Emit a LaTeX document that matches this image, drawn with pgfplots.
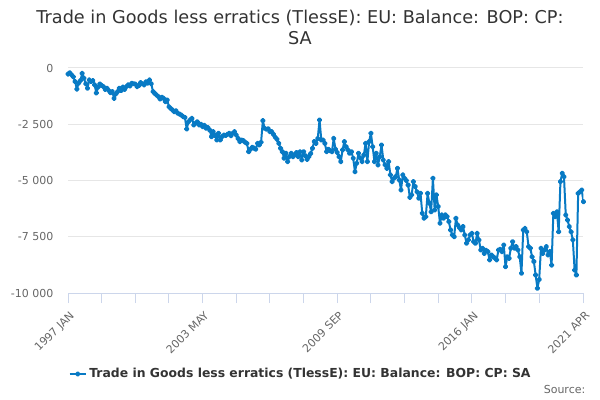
\documentclass[border=0pt]{standalone}
\usepackage{pgfplots}
\pgfplotsset{compat=1.18}
\usepackage{fontspec}
\setmainfont{DejaVu Sans}
\definecolor{line}{RGB}{8,122,196}
\definecolor{axisc}{HTML}{CCD6EB}
\definecolor{gridc}{HTML}{E6E6E6}
\definecolor{labc}{HTML}{666666}
\definecolor{titc}{HTML}{333333}
\begin{document}
\begin{tikzpicture}
\path[use as bounding box] (0,0) rectangle (450pt,300pt);
\node[anchor=base, font=\fontsize{13.25}{15}\selectfont, text=titc] at (225pt,282pt) {Trade in Goods less erratics (TlessE): EU: Balance: BOP: CP:};
\node[anchor=base, font=\fontsize{13.25}{15}\selectfont, text=titc] at (225pt,266.5pt) {SA};
\begin{axis}[
  at={(51pt,80.25pt)}, anchor=south west,
  width=386.6pt, height=168.75pt, scale only axis,
  xmin=0, xmax=291, ymin=-10000, ymax=0,
  scaled y ticks=false,
  axis x line*=bottom, axis y line*=left,
  x axis line style={draw=axisc, line width=0.75pt},
  y axis line style={draw=none},
  ytick={-10000,-7500,-5000,-2500,0},
  yticklabels={-10 000,-7 500,-5 000,-2 500,0},
  xtick={0,76,152,228,291},
  xticklabels={1997 JAN,2003 MAY,2009 SEP,2016 JAN,2021 APR},
  minor xtick={19,38,57,95,114,133,171,190,209,247,266},
  xticklabel style={rotate=45, anchor=north east, text=labc, font=\fontsize{8.25}{9}\selectfont, yshift=-1pt},
  yticklabel style={text=labc, font=\fontsize{8.25}{9}\selectfont},
  tick align=outside,
  major tick length=7.5pt, minor tick length=7.5pt,
  xtick style={draw=axisc, line width=0.75pt},
  minor x tick style={draw=axisc, line width=0.75pt},
  ytick style={draw=none},
  ymajorgrids, grid style={draw=gridc, line width=0.75pt},
  xminorgrids=false,
  /pgf/number format/assume math mode=true,
  legend style={at={(0.452,-0.36)}, anchor=center, draw=none, fill=none, font=\bfseries\fontsize{9.3}{11}\selectfont, text=titc, legend cell align=left},
  legend image code/.code={\draw[#1, line width=1.5pt] (0pt,0pt) -- (12pt,0pt); \fill[line] (6pt,0pt) circle (1.3pt);},
]
\addplot[color=line, line width=1.5pt, mark=*, mark size=1.3pt, line join=round] table {
x y
0 -270
1 -210
2 -300
3 -390
4 -600
5 -940
6 -670
7 -560
8 -240
9 -450
10 -700
11 -900
12 -530
13 -600
14 -560
15 -750
16 -1110
17 -850
18 -710
19 -780
20 -830
21 -950
22 -900
23 -1000
24 -1100
25 -1050
26 -1350
27 -1150
28 -1050
29 -900
30 -1000
31 -850
32 -950
33 -820
34 -750
35 -800
36 -680
37 -700
38 -710
39 -830
40 -780
41 -650
42 -700
43 -750
44 -610
45 -670
46 -530
47 -700
48 -1050
49 -1130
50 -1200
51 -1270
52 -1380
53 -1300
54 -1350
55 -1500
56 -1420
57 -1720
58 -1800
59 -1870
60 -1940
61 -1900
62 -2010
63 -2050
64 -2090
65 -2160
66 -2200
67 -2710
68 -2390
69 -2300
70 -2240
71 -2530
72 -2450
73 -2390
74 -2530
75 -2500
76 -2610
77 -2550
78 -2680
79 -2650
80 -2760
81 -3050
82 -2830
83 -3000
84 -3200
85 -2900
86 -3200
87 -3050
88 -2980
89 -3000
90 -2950
91 -2900
92 -3010
93 -2900
94 -2830
95 -2980
96 -3130
97 -3270
98 -3200
99 -3230
100 -3300
101 -3350
102 -3720
103 -3610
104 -3520
105 -3560
106 -3610
107 -3350
108 -3420
109 -3300
110 -2340
111 -2680
112 -2720
113 -2700
114 -2830
115 -2830
116 -2950
117 -3080
118 -3170
119 -3350
120 -3570
121 -3720
122 -4010
123 -3790
124 -4160
125 -3940
126 -3790
127 -3940
128 -3850
129 -3760
130 -3940
131 -3720
132 -4090
133 -3720
134 -3900
135 -4060
136 -3940
137 -3800
138 -3570
139 -3270
140 -3350
141 -3130
142 -2310
143 -3200
144 -3200
145 -3350
146 -3720
147 -3610
148 -3680
149 -3720
150 -3130
151 -3610
152 -3760
153 -3940
154 -4160
155 -3640
156 -3270
157 -3500
158 -3640
159 -3790
160 -3720
161 -4010
162 -4610
163 -4230
164 -3790
165 -4000
166 -4160
167 -3870
168 -3350
169 -4160
170 -3270
171 -2900
172 -3500
173 -4160
174 -3790
175 -4310
176 -3940
177 -3420
178 -4090
179 -4300
180 -4460
181 -4160
182 -4750
183 -5050
184 -4900
185 -4830
186 -4460
187 -4980
188 -5420
189 -4750
190 -4900
191 -5000
192 -5200
193 -5750
194 -5640
195 -5050
196 -5270
197 -5500
198 -5790
199 -5570
200 -6460
201 -6680
202 -6610
203 -5570
204 -6010
205 -6390
206 -4900
207 -6310
208 -5640
209 -6160
210 -6900
211 -6530
212 -6680
213 -6530
214 -6600
215 -6830
216 -7200
217 -7420
218 -7500
219 -6680
220 -6980
221 -7100
222 -7200
223 -7050
224 -7420
225 -7790
226 -7640
227 -7420
228 -7350
229 -7720
230 -7790
231 -7350
232 -7640
233 -8090
234 -8010
235 -8240
236 -8100
237 -8160
238 -8530
239 -8310
240 -8390
241 -8450
242 -8530
243 -8090
244 -8060
245 -8160
246 -7870
247 -8830
248 -8390
249 -8460
250 -8010
251 -7720
252 -8010
253 -7940
254 -8090
255 -8390
256 -9120
257 -7200
258 -7130
259 -7280
260 -7940
261 -8010
262 -8390
263 -8600
264 -9200
265 -9790
266 -9400
267 -8010
268 -8240
269 -8090
270 -7940
271 -8310
272 -8160
273 -8760
274 -6460
275 -6610
276 -6390
277 -7280
278 -5050
279 -4680
280 -4830
281 -6530
282 -6760
283 -7050
284 -7280
285 -7640
286 -8980
287 -9200
288 -5570
289 -5500
290 -5420
291 -5940
};
\addlegendentry{Trade in Goods less erratics (TlessE): EU: Balance: BOP: CP: SA}
\end{axis}
\node[anchor=base east, font=\fontsize{8.25}{9}\selectfont, text=labc] at (442.5pt,5.25pt) {Source:};
\end{tikzpicture}
\end{document}
